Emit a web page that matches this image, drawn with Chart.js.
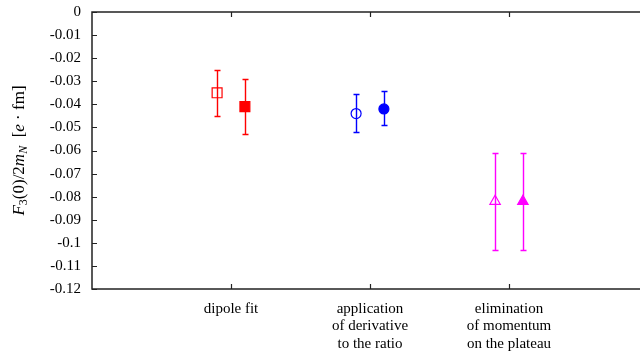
<!DOCTYPE html>
<html>
<head>
<meta charset="utf-8">
<script src="https://cdn.jsdelivr.net/npm/chart.js@4.4.1/dist/chart.umd.min.js"></script>
<style>
html, body { margin: 0; padding: 0; overflow: hidden; background: #fff; }
canvas { display: block; }
</style>
</head>
<body>
<canvas id="chart" width="680" height="358"></canvas>
<script>
// categories along x (multi-line labels)
const categories = [
    ['dipole fit'],
    ['application', 'of derivative', 'to the ratio'],
    ['elimination', 'of momentum', 'on the plateau']
];

// open markers
const openValues = [-0.035, -0.044, -0.082];
const openUpper  = [-0.025, -0.0357, -0.061];
const openLower  = [-0.045, -0.052, -0.103];

// filled markers
const filledValues = [-0.041, -0.042, -0.082];
const filledUpper  = [-0.029, -0.0343, -0.061];
const filledLower  = [-0.053, -0.0488, -0.103];

const yTickValues = [0, -0.01, -0.02, -0.03, -0.04, -0.05, -0.06, -0.07, -0.08, -0.09, -0.1, -0.11, -0.12];

const colors = ['#ff0000', '#0000ff', '#ff00ff'];
const markers = ['rect', 'circle', 'triangle'];
const radii = [7, 5, 6];
const FONT = '"Liberation Serif", "DejaVu Serif", serif';

function toPoints(values, shift) {
    return values.map((v, i) => ({ x: i + 1 + shift, y: v }));
}

// draws error bars, frame, inside ticks and the y-axis title
const framePlugin = {
    id: 'frame',
    beforeDatasetsDraw(chart) {
        const ctx = chart.ctx;
        const x = chart.scales.x, y = chart.scales.y;
        ctx.save();
        ctx.lineWidth = 1.4;
        chart.data.datasets.forEach(ds => {
            ds.data.forEach((p, i) => {
                const px = Math.round(x.getPixelForValue(p.x)) + 0.5;
                const top = Math.round(y.getPixelForValue(ds.upper[i])) + 0.5;
                const bot = Math.round(y.getPixelForValue(ds.lower[i])) + 0.5;
                ctx.strokeStyle = colors[i];
                ctx.beginPath();
                ctx.moveTo(px, top); ctx.lineTo(px, bot);
                ctx.moveTo(px - 3, top); ctx.lineTo(px + 3, top);
                ctx.moveTo(px - 3, bot); ctx.lineTo(px + 3, bot);
                ctx.stroke();
            });
        });
        ctx.restore();
    },
    afterDraw(chart) {
        const ctx = chart.ctx;
        const a = chart.chartArea;
        const x = chart.scales.x, y = chart.scales.y;
        ctx.save();
        ctx.strokeStyle = '#222';
        ctx.lineWidth = 1.5;
        ctx.strokeRect(a.left, a.top, a.right - a.left, a.bottom - a.top);
        ctx.lineWidth = 1.2;
        ctx.beginPath();
        yTickValues.forEach(v => {
            const py = Math.round(y.getPixelForValue(v)) + 0.5;
            ctx.moveTo(a.left, py); ctx.lineTo(a.left + 5, py);
            ctx.moveTo(a.right, py); ctx.lineTo(a.right - 5, py);
        });
        categories.forEach((c, i) => {
            const px = Math.round(x.getPixelForValue(i + 1)) + 0.5;
            ctx.moveTo(px, a.bottom); ctx.lineTo(px, a.bottom - 5);
            ctx.moveTo(px, a.top); ctx.lineTo(px, a.top + 5);
        });
        ctx.stroke();

        // y title: F_3(0)/2m_N [e·fm]
        const parts = [
            { t: 'F', it: true },
            { t: '3', sub: true },
            { t: '(0)/2' },
            { t: 'm', it: true },
            { t: 'N', it: true, sub: true },
            { t: '  [' },
            { t: 'e', it: true },
            { t: ' · ' },
            { t: 'fm' },
            { t: ']' }
        ];
        const fontFor = p => (p.it ? 'italic ' : '') + (p.sub ? 12 : 17) + 'px ' + FONT;
        let total = 0;
        parts.forEach(p => { ctx.font = fontFor(p); p.w = ctx.measureText(p.t).width; total += p.w; });
        ctx.translate(20, (a.top + a.bottom) / 2);
        ctx.rotate(-Math.PI / 2);
        ctx.fillStyle = '#000';
        ctx.textBaseline = 'middle';
        let cx = -total / 2;
        parts.forEach(p => {
            ctx.font = fontFor(p);
            ctx.fillText(p.t, cx, p.sub ? 4 : 0);
            cx += p.w;
        });
        ctx.restore();
    }
};

const ctx = document.getElementById('chart').getContext('2d');
const chart = new Chart(ctx, {
    type: 'scatter',
    data: {
        datasets: [
            {
                label: 'open',
                data: toPoints(openValues, -0.1),
                upper: openUpper,
                lower: openLower,
                pointStyle: markers,
                pointRadius: radii,
                pointBorderColor: colors,
                pointBackgroundColor: 'rgba(0,0,0,0)',
                pointBorderWidth: 1.2
            },
            {
                label: 'filled',
                data: toPoints(filledValues, 0.1),
                upper: filledUpper,
                lower: filledLower,
                pointStyle: markers,
                pointRadius: radii,
                pointBorderColor: colors,
                pointBackgroundColor: colors,
                pointBorderWidth: 1.2
            }
        ]
    },
    options: {
        responsive: false,
        animation: false,
        layout: { padding: { top: 5, right: 32, left: 0, bottom: 0 } },
        plugins: {
            legend: { display: false },
            tooltip: { enabled: false }
        },
        scales: {
            x: {
                type: 'linear',
                min: 0,
                max: 4,
                grid: { display: false },
                border: { display: false },
                afterBuildTicks: s => { s.ticks = categories.map((c, i) => ({ value: i + 1 })); },
                afterFit: s => { s.height = 69; },
                ticks: {
                    color: '#000',
                    padding: 3,
                    maxRotation: 0,
                    autoSkip: false,
                    font: { family: FONT, size: 15, lineHeight: 1.17 },
                    callback: v => categories[Math.round(v) - 1]
                }
            },
            y: {
                min: -0.12,
                max: 0,
                grid: { display: false },
                border: { display: false },
                afterBuildTicks: s => { s.ticks = yTickValues.map(v => ({ value: v })); },
                afterFit: s => { s.width = 92; },
                ticks: {
                    color: '#000',
                    padding: 3,
                    font: { family: FONT, size: 15 },
                    callback: v => String(Number(v.toFixed(2)))
                }
            }
        }
    },
    plugins: [framePlugin]
});
</script>
</body>
</html>
